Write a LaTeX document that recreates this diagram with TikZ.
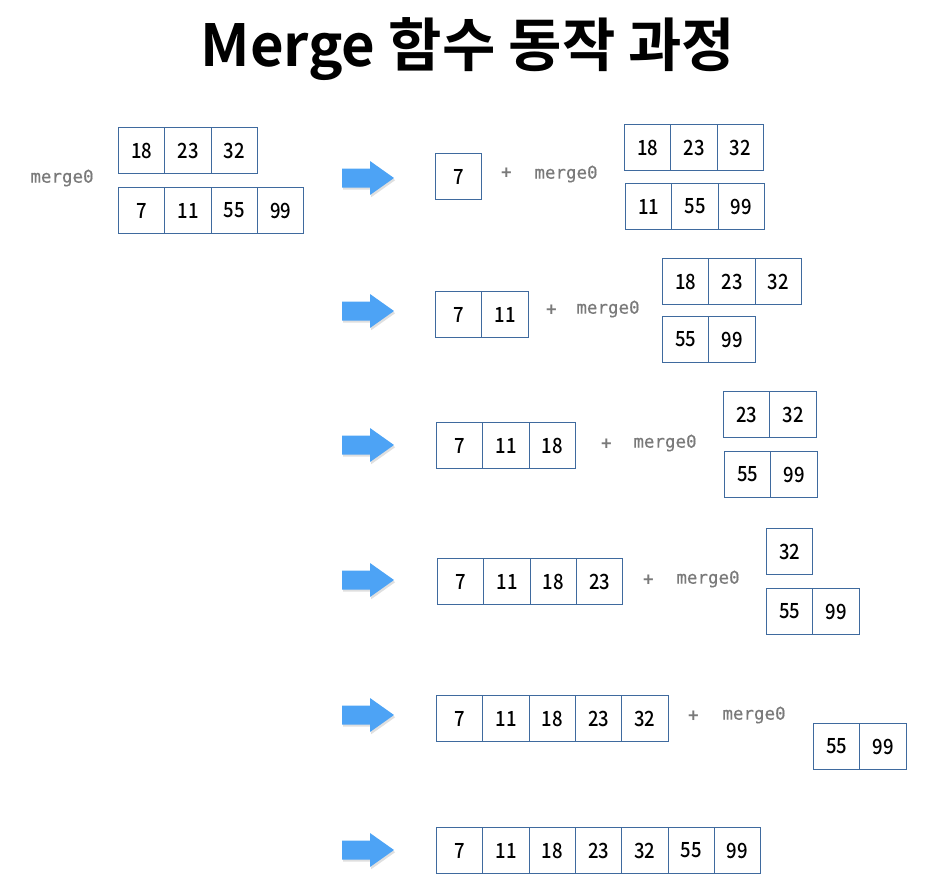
\documentclass[tikz,border=0pt]{standalone}
\usepackage{fontspec}
\setmainfont{Noto Sans CJK KR}
\newfontfamily\titlefont{Noto Sans CJK KR Bold}
\newfontfamily\digitfont[FakeStretch=0.88]{Noto Sans CJK KR Medium}
\newfontfamily\monofont[FakeBold=0.6]{DejaVu Sans Mono}
\usetikzlibrary{shadows}
\definecolor{cellblue}{HTML}{3F6A9E}
\definecolor{arrowblue}{HTML}{4DA3F5}
\definecolor{mgrey}{HTML}{7A7A7A}
\tikzset{
  cell/.style={draw=cellblue, line width=1.1pt, fill=white, minimum width=46.3pt, minimum height=46pt,
    inner sep=0pt, anchor=north west, font=\digitfont\fontsize{21}{21}\selectfont},
  mlabel/.style={text=mgrey, font=\monofont\fontsize{17.5}{17.5}\selectfont, inner sep=0pt},
  plus/.style={text=mgrey, font=\titlefont\fontsize{18}{18}\selectfont, inner sep=0pt},
  bluearrow/.style={fill=arrowblue, draw=none, drop shadow={opacity=0.25, shadow xshift=1.2pt, shadow yshift=-2.2pt}}
}
\newcommand{\cellrow}[4]{%
  \foreach \v [count=\i] in {#4}{%
    \node[cell] (#1-\i) at ({#2+46.3*(\i-1)},#3) {\v};
  }%
}
\newcommand{\bigarrow}[1]{%
  \fill[bluearrow] (342,#1-9.5) -- (370,#1-9.5) -- (370,#1-17) -- (394,#1) -- (370,#1+17) -- (370,#1+9.5) -- (342,#1+9.5) -- cycle;
}
\begin{document}
\begin{tikzpicture}[x=1pt,y=-1pt]
\useasboundingbox (0,0) rectangle (934,884);
\node[anchor=base, font=\titlefont\fontsize{58}{58}\selectfont, inner sep=0pt] (title) at (468,66) {Merge 함수 동작 과정};
% row 0
\node[mlabel] (m0) at (62,178) {merge0};
\cellrow{a0}{118}{127}{18,23,32}
\cellrow{b0}{118}{187}{7,11,55,99}
% row 1
\bigarrow{178}
\cellrow{r1}{435}{153}{7}
\node[plus] (p1) at (507,174) {+};
\node[mlabel] (m1) at (566,174) {merge0};
\cellrow{a1}{624}{124}{18,23,32}
\cellrow{b1}{625}{183}{11,55,99}
% row 2
\bigarrow{311}
\cellrow{r2}{435}{291}{7,11}
\node[plus] (p2) at (552,311) {+};
\node[mlabel] (m2) at (608,309) {merge0};
\cellrow{a2}{662}{258}{18,23,32}
\cellrow{b2}{662}{316}{55,99}
% row 3
\bigarrow{445}
\cellrow{r3}{436}{422}{7,11,18}
\node[plus] (p3) at (607,445) {+};
\node[mlabel] (m3) at (665,443) {merge0};
\cellrow{a3}{723}{391}{23,32}
\cellrow{b3}{724}{451}{55,99}
% row 4
\bigarrow{580}
\cellrow{r4}{437}{558}{7,11,18,23}
\node[plus] (p4) at (649,581) {+};
\node[mlabel] (m4) at (708,579) {merge0};
\cellrow{a4}{766}{528}{32}
\cellrow{b4}{766}{588}{55,99}
% row 5
\bigarrow{715}
\cellrow{r5}{436}{695}{7,11,18,23,32}
\node[plus] (p5) at (694,717) {+};
\node[mlabel] (m5) at (754,715) {merge0};
\cellrow{b5}{813}{723}{55,99}
% row 6
\bigarrow{850}
\cellrow{r6}{436}{827}{7,11,18,23,32,55,99}
\end{tikzpicture}
\end{document}
